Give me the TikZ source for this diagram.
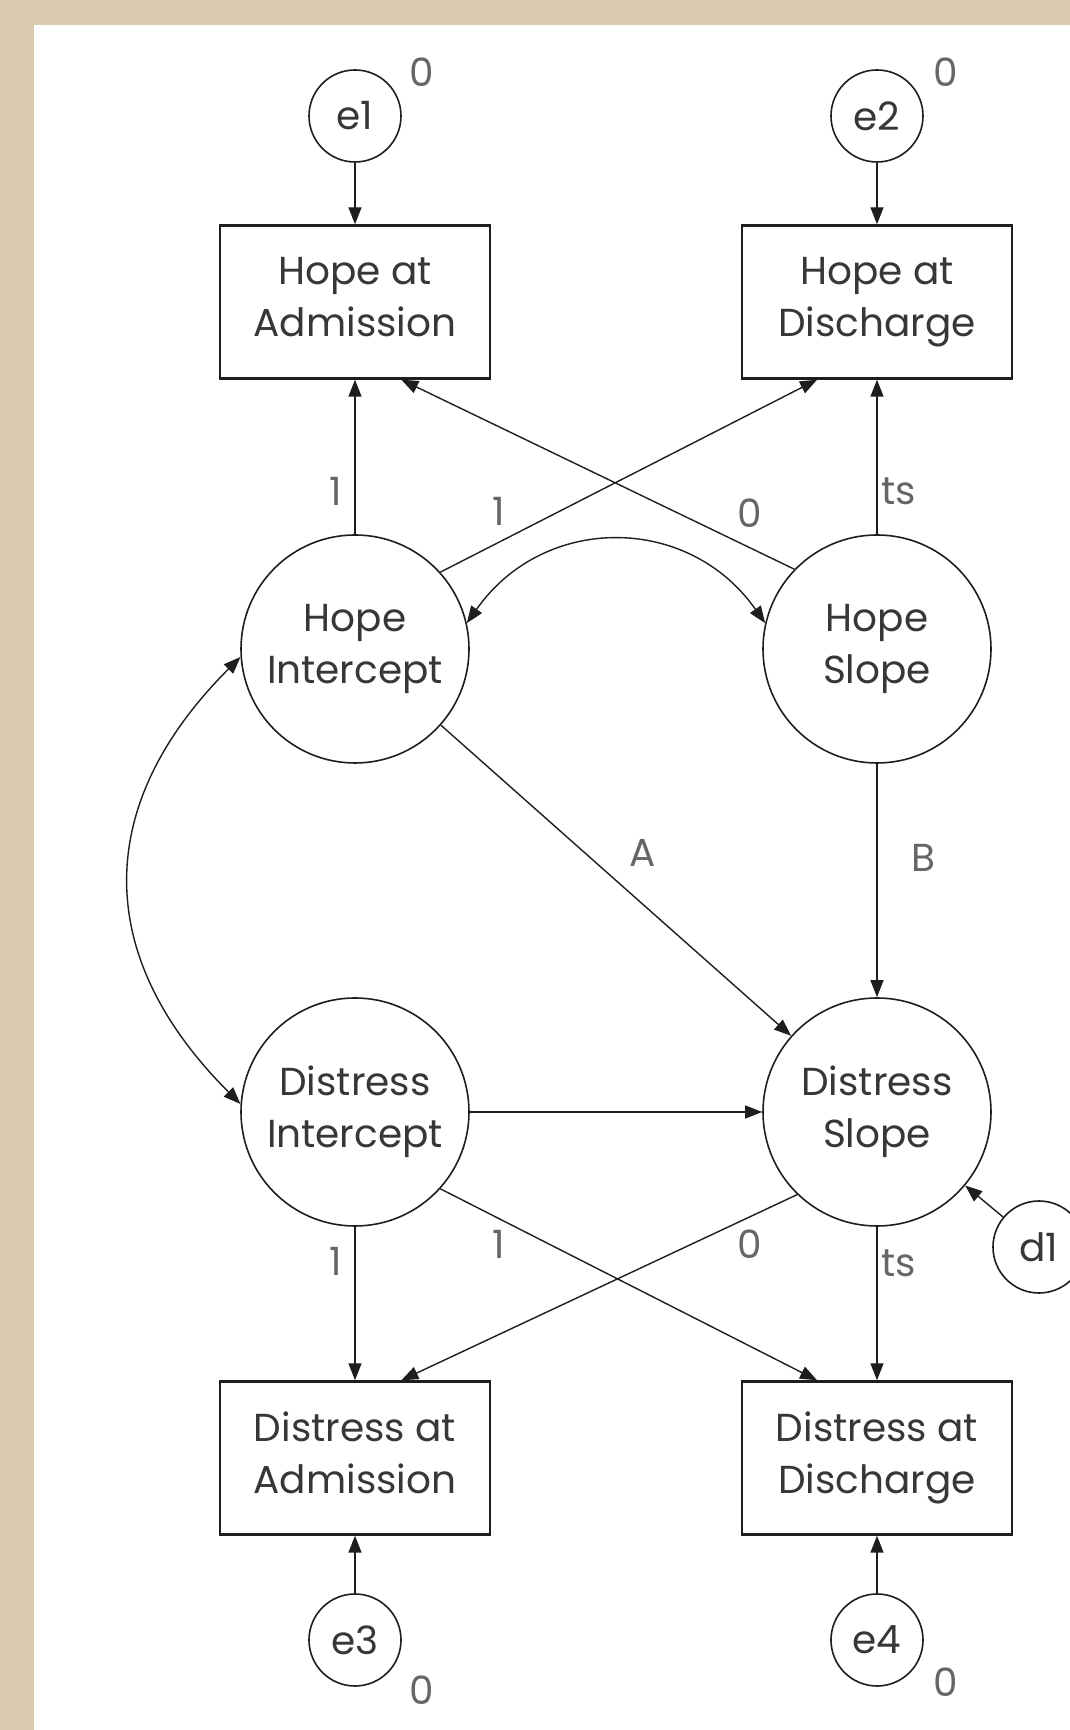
\documentclass[tikz,border=0pt]{standalone}
\usepackage{fontspec}
\setmainfont{Poppins}
\usetikzlibrary{arrows.meta,calc}
\definecolor{tanbg}{RGB}{219,203,176}
\definecolor{txt}{RGB}{55,55,55}
\definecolor{ln}{RGB}{30,30,30}
\begin{document}
\begin{tikzpicture}[x=1pt,y=1pt,
  every node/.style={font=\fontsize{39}{52}\selectfont, text=txt},
  lat/.style={circle, draw=ln, line width=1.6pt, minimum size=228pt, inner sep=0pt, align=center},
  err/.style={circle, draw=ln, line width=1.6pt, minimum size=92pt, inner sep=0pt},
  obs/.style={rectangle, draw=ln, line width=2.4pt, minimum width=270pt, minimum height=153pt, align=center},
  arr/.style={-{Triangle[length=17pt,width=13pt]}, line width=1.4pt, draw=ln},
  dbl/.style={{Triangle[length=17pt,width=13pt]}-{Triangle[length=17pt,width=13pt]}, line width=1.4pt, draw=ln},
  lab/.style={text=black!60, inner sep=0pt}]
\useasboundingbox (0,0) rectangle (1070,1730);
\clip (0,0) rectangle (1070,1730);
\fill[tanbg] (0,0) rectangle (1070,1730);
\fill[white] (34,0) rectangle (1070,1705);

% nodes
\node[err] (e1) at (355,1614) {e1};
\node[err] (e2) at (877,1614) {e2};
\node[lab] (z1) at (422,1658) {0};
\node[lab] (z2) at (946,1658) {0};
\node[obs] (HA) at (355,1428) {Hope at\\Admission\vphantom{g}};
\node[obs] (HD) at (877,1428) {Hope at\\Discharge};
\node[lat] (HI) at (355,1081) {Hope\\Intercept};
\node[lat] (HS) at (877,1081) {Hope\\Slope};
\node[lat] (DI) at (355,618) {Distress\\Intercept};
\node[lat] (DS) at (877,618) {Distress\\Slope};
\node[obs] (DA) at (355,272) {Distress at\\Admission\vphantom{g}};
\node[obs] (DD) at (877,272) {Distress at\\Discharge};
\node[err] (e3) at (355,90) {e3};
\node[err] (e4) at (877,90) {e4};
\node[lab] (z3) at (422,40) {0};
\node[lab] (z4) at (946,48) {0};
\node[err] (d1) at (1039,483) {d1};

% path labels
\node[lab] (l1) at (336,1239) {1};
\node[lab] (l2) at (499,1219) {1};
\node[lab] (l3) at (750,1217) {0};
\node[lab] (l4) at (899,1239) {ts};
\node[lab] (lA) at (643,877) {A};
\node[lab] (lB) at (923,872) {B};
\node[lab] (l5) at (336,469) {1};
\node[lab] (l6) at (499,486) {1};
\node[lab] (l7) at (750,486) {0};
\node[lab] (l8) at (899,467) {ts};

% connectors
\draw[arr] (e1) -- (HA);
\draw[arr] (e2) -- (HD);
\draw[arr] (HI) -- (HA);
\draw[arr] (HS) -- (HD);
\draw[arr] (HI.42) -- ($(HD.south west)!0.28!(HD.south east)$);
\draw[arr] (HS.136) -- ($(HA.south west)!0.67!(HA.south east)$);
\draw[dbl] (HI.13) to[out=55,in=125,looseness=1.15] (HS.167);
\draw[dbl] (DI.176) to[out=135,in=225,looseness=1.2] (HI.184);
\draw[arr] (HI) -- (DS);
\draw[arr] (HS) -- (DS);
\draw[arr] (DI) -- (DS);
\draw[arr] (d1) -- (DS);
\draw[arr] (DI) -- (DA);
\draw[arr] (DS) -- (DD);
\draw[arr] (DI.-42) -- ($(DD.north west)!0.28!(DD.north east)$);
\draw[arr] (DS.226) -- ($(DA.north west)!0.67!(DA.north east)$);
\draw[arr] (e3) -- (DA);
\draw[arr] (e4) -- (DD);
\end{tikzpicture}
\end{document}
